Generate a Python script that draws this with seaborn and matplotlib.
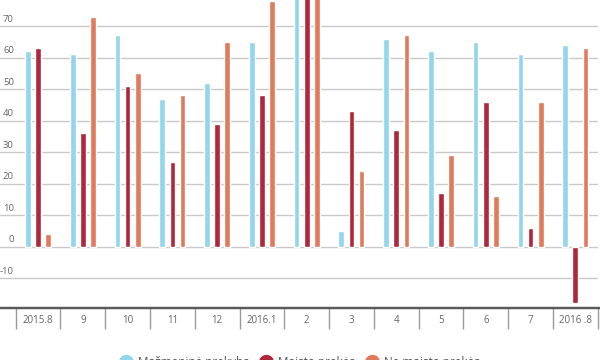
import pandas as pd
import seaborn as sns
import matplotlib.pyplot as plt
from matplotlib.lines import Line2D
from matplotlib.transforms import ScaledTranslation

# Data (series in %)
months = ['2015.8', '9', '10', '11', '12', '2016.1', '2', '3', '4', '5', '6', '7', '2016 .8']
retail = [62, 61, 67, 47, 52, 65, 82, 5, 66, 62, 65, 61, 64]
food = [63, 36, 51, 27, 39, 48, 80, 43, 37, 17, 46, 6, -18]
non_food = [4, 73, 55, 48, 65, 78, 81, 24, 67, 29, 16, 46, 63]

series_names = ['Mažmeninė prekyba', 'Maisto prekės', 'Ne maisto prekės']
series_colors = ['#92d5ec', '#b0263a', '#e07a5b']
yticks = [-10, 0, 10, 20, 30, 40, 50, 60, 70]

df = pd.DataFrame({
    'month': months * 3,
    'value': retail + food + non_food,
    'series': [series_names[0]] * len(months) + [series_names[1]] * len(months)
              + [series_names[2]] * len(months),
})

sns.set_style('white')
plt.rcParams['font.family'] = ['Open Sans', 'DejaVu Sans']

fig = plt.figure(figsize=(6, 3.6), dpi=100)
# axes spans the full width so grid lines run from the left edge
ax = fig.add_axes([0.0, 0.1444, 0.9962, 0.8556])

sns.barplot(data=df, x='month', y='value', hue='series', order=months,
            hue_order=series_names, palette=series_colors, width=0.68, gap=0.44,
            saturation=1, legend=False, ax=ax)

ax.set_ylim(-19.45, 78.25)
ax.set_xlim(-0.851, len(months) - 0.5)
ax.set_xlabel('')
ax.set_ylabel('')

# grid lines
ax.set_yticks(yticks)
ax.set_yticklabels([str(v) for v in yticks])
ax.yaxis.grid(True, color='#c9c9c9', linewidth=1)
ax.set_axisbelow(True)
for s in ['top', 'right', 'left']:
    ax.spines[s].set_visible(False)
ax.spines['bottom'].set_color('#5a5a5a')
ax.spines['bottom'].set_linewidth(1.6)

# y labels sit inside, just above their grid line
ax.tick_params(axis='y', left=False, length=0, pad=-10, labelsize=6.8, labelcolor='#666666')
for lab in ax.get_yticklabels():
    lab.set_verticalalignment('center')
    lab.set_horizontalalignment('right')
    lab.set_transform(lab.get_transform() + ScaledTranslation(0, 5 / 72, fig.dpi_scale_trans))

# category boxes under the axis
ax.set_xticks(range(len(months)))
ax.set_xticklabels(months)
ax.set_xticks([i - 0.5 for i in range(len(months) + 1)], minor=True)
ax.tick_params(axis='x', which='major', bottom=True, length=0, pad=5,
               labelsize=7, labelcolor='#666666')
ax.tick_params(axis='x', which='minor', bottom=True, length=15, width=1,
               color='#9a9a9a', direction='out')

# axis line extends across the whole figure
fig.add_artist(Line2D([0, 1], [0.1444, 0.1444], transform=fig.transFigure,
                      color='#5a5a5a', linewidth=1.6))

handles = [Line2D([], [], marker='o', linestyle='', markersize=10,
                  markerfacecolor=c, markeredgecolor=c) for c in series_colors]
fig.legend(handles, series_names, loc='center', bbox_to_anchor=(0.5, -0.008), ncol=3,
           frameon=False, fontsize=8.5, labelcolor='#555555', handletextpad=0.5,
           columnspacing=0.9, handlelength=1.0)

fig.savefig('out.png', dpi=100)
